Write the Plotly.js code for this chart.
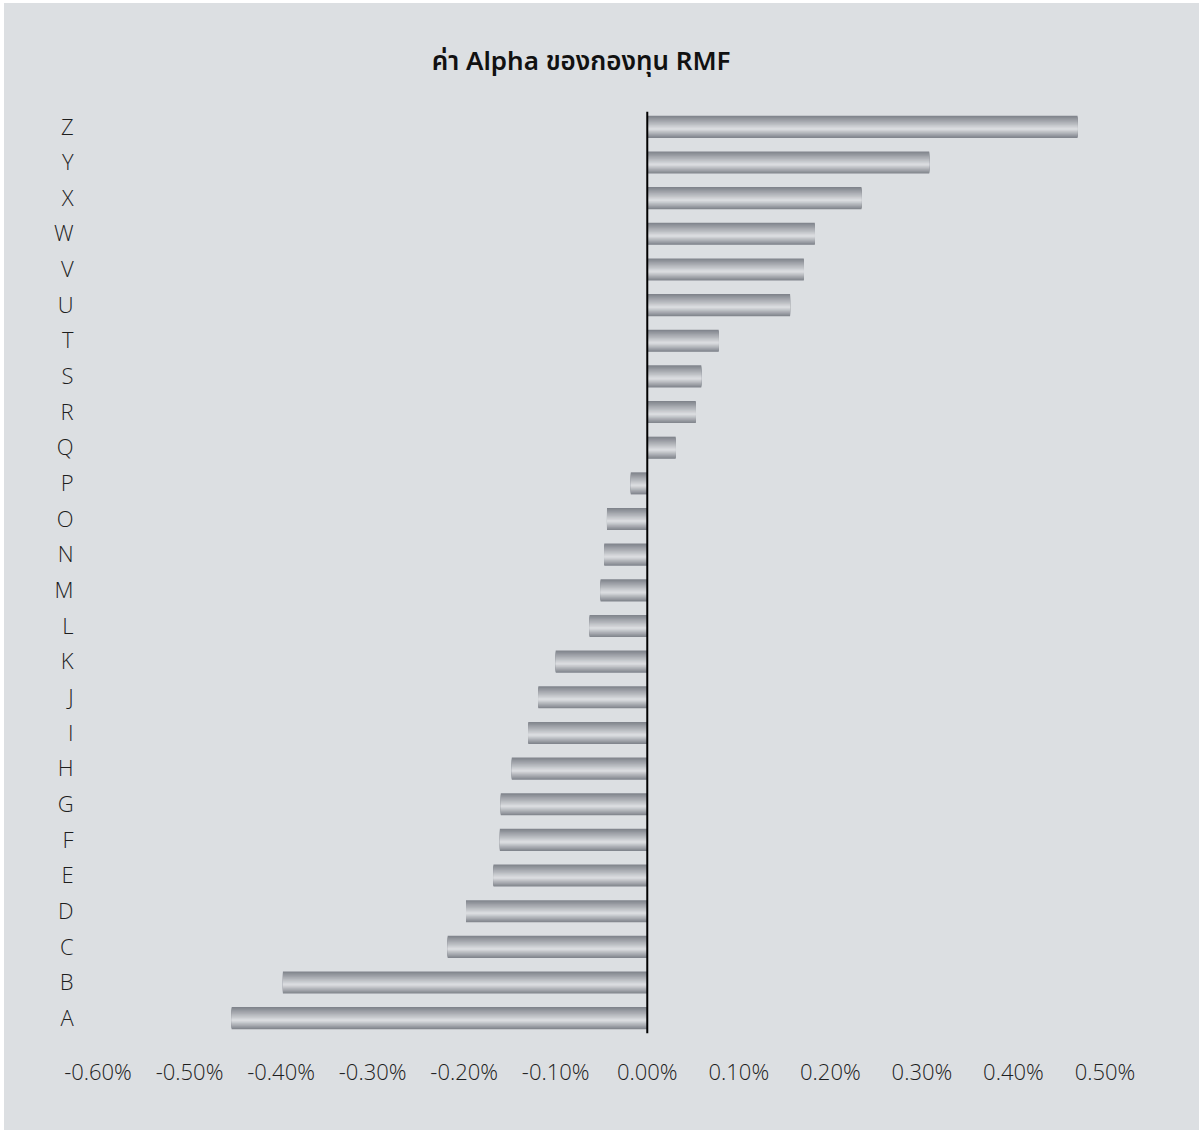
<!DOCTYPE html>
<html>
<head>
<meta charset="utf-8">
<script src="https://cdn.plot.ly/plotly-3.0.1.min.js"></script>
<style>
  html, body { margin: 0; padding: 0; background: #ffffff; width: 1199px; height: 1132px; overflow: hidden; }
  #chart { position: absolute; left: 4px; top: 3px; width: 1195px; height: 1127px; }
</style>
</head>
<body>
<div id="chart"></div>
<script>
// Fund labels (bottom to top)
const categories = ['A','B','C','D','E','F','G','H','I','J','K','L','M','N','O','P','Q','R','S','T','U','V','W','X','Y','Z'];
// Alpha values in percent
const alphaValues = [-0.454, -0.398, -0.218, -0.198, -0.168, -0.161, -0.160, -0.148, -0.130, -0.119, -0.100, -0.063, -0.051, -0.047, -0.044, -0.018, 0.031, 0.053, 0.059, 0.078, 0.156, 0.171, 0.183, 0.234, 0.308, 0.470];
// Axis ticks
const tickValues = [-0.6, -0.5, -0.4, -0.3, -0.2, -0.1, 0.0, 0.1, 0.2, 0.3, 0.4, 0.5];
const tickLabels = ['-0.60%', '-0.50%', '-0.40%', '-0.30%', '-0.20%', '-0.10%', '0.00%', '0.10%', '0.20%', '0.30%', '0.40%', '0.50%'];
const chartTitle = 'ค่า Alpha ของกองทุน RMF';

// Build a metallic gradient by stacking narrower, lighter bars
const dark = [128, 132, 140];
const light = [218, 220, 223];
const lo = -0.31, hi = 0.31, mid = -0.06;
const layers = 14;
const traces = [];
for (let k = 0; k < layers; k++) {
  const t = k / (layers - 1);
  const bottom = lo + (mid - lo) * t * 0.92;
  const top = hi - (hi - mid) * t * 0.92;
  const s = t;
  const c = dark.map((d, i) => Math.round(d + (light[i] - d) * s));
  traces.push({
    type: 'bar',
    orientation: 'h',
    x: alphaValues,
    y: categories,
    width: top - bottom,
    offset: bottom,
    marker: { color: `rgb(${c[0]},${c[1]},${c[2]})`, line: { width: 0 } },
    hoverinfo: 'skip',
    showlegend: false
  });
}

const labelFont = { family: 'Open Sans, Noto Sans, sans-serif', size: 22, color: '#1e1e1e', weight: 300 };

const layout = {
  paper_bgcolor: '#dcdfe2',
  plot_bgcolor: 'rgba(0,0,0,0)',
  barmode: 'overlay',
  margin: { l: 94, r: 94, t: 106, b: 94, pad: 0 },
  title: {
    text: chartTitle,
    font: { family: 'Noto Sans, Noto Sans Thai, sans-serif', size: 26, color: '#111111', weight: 600 },
    xref: 'container', x: 0.483, xanchor: 'center',
    yref: 'container', y: 0.949, yanchor: 'middle'
  },
  xaxis: {
    range: [-0.6, 0.5],
    tickmode: 'array',
    tickvals: tickValues,
    ticktext: tickLabels,
    showgrid: false,
    zeroline: false,
    showline: false,
    ticks: 'outside',
    ticklen: 17,
    tickcolor: 'rgba(0,0,0,0)',
    tickfont: labelFont,
    fixedrange: true
  },
  yaxis: {
    type: 'category',
    categoryorder: 'array',
    categoryarray: categories,
    range: [-0.5, 25.5],
    showgrid: false,
    zeroline: false,
    showline: false,
    ticks: 'outside',
    ticklen: 19,
    tickcolor: 'rgba(0,0,0,0)',
    tickfont: labelFont,
    fixedrange: true
  },
  shapes: [{
    type: 'line', xref: 'x', yref: 'paper',
    x0: 0, x1: 0, y0: 0.003, y1: 0.997,
    line: { color: '#000000', width: 2 },
    layer: 'above'
  }]
};

Plotly.newPlot('chart', traces, layout, { displayModeBar: false, staticPlot: true });
</script>
</body>
</html>
